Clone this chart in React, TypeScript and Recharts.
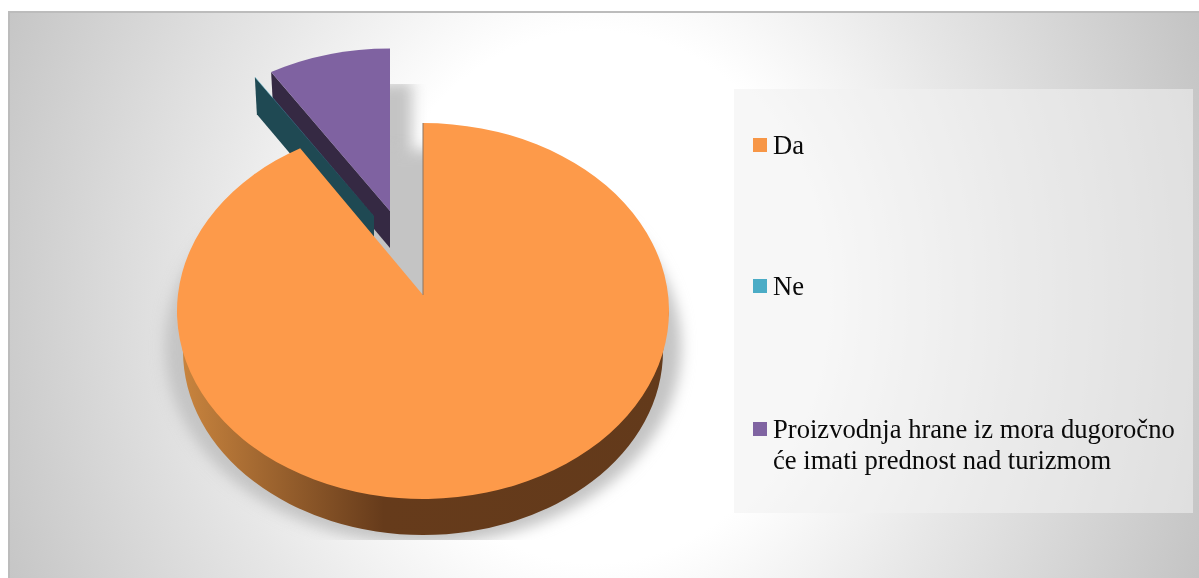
import React from 'react'
import { PieChart, Pie, Legend } from 'recharts'

const SLICE_NAMES = ['Proizvodnja hrane iz mora dugoročno će imati prednost nad turizmom', 'Ne', 'Da']
const SLICE_VALUES = [8.3, 0.02, 91.68]
const LEGEND_COLORS = ['#8064A2', '#4BACC6', '#F79646']
const FACE_COLORS = ['#7F62A1', '#4BACC6', '#FD9A4A']
const WALL_COLORS = ['#352943', '#1F4953', 'url(#daWall)']
// explosion of each slice, in pixels, plus the small perspective shrink
const SLICE_DX = [-33, -49, 0]
const SLICE_DY = [-84, -79, 0]
const SLICE_SCALE_X = [0.97, 0.97, 1]
const SLICE_SCALE_Y = [0.945, 0.945, 1]
const LEGEND_ROW_TOPS = [39, 180, 323]

const pieData = SLICE_NAMES.map((name, i) => ({ name, value: SLICE_VALUES[i], fill: FACE_COLORS[i] }))

const SQUASH = 0.764
const CENTER_DROP = 16
const DEPTH = 37

const pt = (p: any, idx: number, deg: number, extraX = 0, extraY = 0) => {
  const a = (deg * Math.PI) / 180
  return {
    x: p.cx + SLICE_DX[idx] + extraX + SLICE_SCALE_X[idx] * p.outerRadius * Math.cos(a),
    y: p.cy + SLICE_DY[idx] + extraY + SLICE_SCALE_Y[idx] * (CENTER_DROP - p.outerRadius * SQUASH * Math.sin(a)),
  }
}

const facePath = (p: any, idx: number, dx = 0, dy = 0) => {
  const rx = SLICE_SCALE_X[idx] * p.outerRadius
  const ry = SLICE_SCALE_Y[idx] * p.outerRadius * SQUASH
  const a = pt(p, idx, p.startAngle, dx, dy)
  const b = pt(p, idx, p.endAngle, dx, dy)
  const large = p.endAngle - p.startAngle > 180 ? 1 : 0
  const ax = p.cx + SLICE_DX[idx] + dx
  const ay = p.cy + SLICE_DY[idx] + dy
  return `M${ax},${ay} L${a.x},${a.y} A${rx},${ry} 0 ${large} 0 ${b.x},${b.y} Z`
}

const sliceIndex = (p: any) => SLICE_NAMES.indexOf(p.name)

function ShadowShape(p: any) {
  const idx = sliceIndex(p)
  if (p.name === 'Da') {
    // the big slice throws a whole disc of shadow, which is what greys the notch
    const rx = p.outerRadius * 1.05
    const ry = rx * SQUASH
    const cy = p.cy + CENTER_DROP + 36
    return (
      <g clipPath="url(#shadowClip)" style={{ mixBlendMode: 'darken' }}>
        <ellipse cx={p.cx} cy={cy} rx={rx} ry={ry} fill="#C4C4C4" filter="url(#soft)" />
      </g>
    )
  }
  return (
    <g clipPath="url(#shadowClip)" style={{ mixBlendMode: 'darken' }}>
      <path d={facePath(p, idx, 22, 34)} fill="#C4C4C4" filter="url(#soft)" />
    </g>
  )
}

function SliceShape(p: any) {
  const idx = sliceIndex(p)
  const isDa = p.name === 'Da'
  let wall = ''
  if (isDa) {
    const rx = p.outerRadius
    const ry = rx * SQUASH
    const yc = p.cy + CENTER_DROP
    wall = `M${p.cx - rx},${yc} L${p.cx - rx + 6},${yc + 40} A${rx - 6},${ry - 4} 0 0 0 ${p.cx + rx - 6},${yc + 40} L${p.cx + rx},${yc} Z`
  } else {
    const outer = pt(p, idx, p.endAngle)
    const ax = p.cx + SLICE_DX[idx]
    const ay = p.cy + SLICE_DY[idx]
    wall = `M${outer.x},${outer.y} L${ax},${ay} L${ax},${ay + DEPTH} L${outer.x + 2},${outer.y + DEPTH} Z`
  }
  return (
    <g>
      <path d={wall} fill={WALL_COLORS[idx]} />
      <path d={facePath(p, idx)} fill={FACE_COLORS[idx]} />
      {isDa ? <line x1={p.cx} y1={p.cy} x2={p.cx} y2={p.cy - 172} stroke="#8C7460" strokeWidth={1} /> : null}
    </g>
  )
}

function LegendBox({ payload }: any) {
  const names = [...SLICE_NAMES].reverse()
  const seen = (payload ?? []).map((item: any) => item.value)
  const items = names.filter((name) => seen.includes(name))
  return (
    <div style={{ position: 'relative', width: 459, height: 424, fontFamily: '"Liberation Serif", serif', fontSize: 26.6, lineHeight: '31px', color: '#0a0a0a' }}>
      {items.map((name: string, i: number) => (
        <div key={name} style={{ position: 'absolute', left: 19, top: LEGEND_ROW_TOPS[i], width: 430, display: 'flex', textAlign: 'left' }}>
          <span style={{ flex: 'none', width: 14, height: 14, marginTop: 10, marginRight: 6, background: LEGEND_COLORS[SLICE_NAMES.indexOf(name)] }} />
          <span style={{ paddingTop: 2 }}>{name}</span>
        </div>
      ))}
    </div>
  )
}

export default function App() {
  return (
    <div style={{ position: 'absolute', left: 0, top: 0, width: 1199, height: 578, background: '#fff', overflow: 'hidden' }}>
      <div
        style={{
          position: 'absolute',
          left: 8,
          top: 11,
          width: 1191,
          height: 567,
          borderTop: '2px solid #bcbcbc',
          borderLeft: '2px solid #bcbcbc',
          boxSizing: 'border-box',
          background: 'radial-gradient(ellipse 600px 700px at 585px 284px, #ffffff 0%, #ffffff 38%, #e7e7e7 65%, #c4c4c4 108%)',
        }}
      />
      <div style={{ position: 'absolute', left: 0, top: 0 }}>
        <PieChart width={1199} height={578} margin={{ top: 0, right: 0, bottom: 0, left: 0 }}>
          <defs>
            <linearGradient id="daWall" x1="0" y1="0" x2="1" y2="0">
              <stop offset="0%" stopColor="#CB863F" />
              <stop offset="42%" stopColor="#663B1B" />
              <stop offset="100%" stopColor="#633A1B" />
            </linearGradient>
            <filter id="soft" x="-20%" y="-20%" width="140%" height="140%">
              <feGaussianBlur stdDeviation="7" />
            </filter>
            <clipPath id="shadowClip">
              <rect x={8} y={84} width={1191} height={456} />
            </clipPath>
          </defs>
          <Pie
            data={pieData}
            dataKey="value"
            nameKey="name"
            cx={423}
            cy={295}
            outerRadius={246}
            startAngle={90}
            endAngle={450}
            stroke="none"
            legendType="none"
            isAnimationActive={false}
            shape={ShadowShape}
            inactiveShape={ShadowShape}
          />
          <Pie
            data={pieData}
            dataKey="value"
            nameKey="name"
            cx={423}
            cy={295}
            outerRadius={246}
            startAngle={90}
            endAngle={450}
            stroke="none"
            isAnimationActive={false}
            shape={SliceShape}
            inactiveShape={SliceShape}
          />
          <Legend
            content={<LegendBox />}
            layout="vertical"
            align="right"
            verticalAlign="top"
            wrapperStyle={{ left: 734, top: 89, width: 459, height: 424, background: 'rgba(241,241,241,0.57)' }}
          />
        </PieChart>
      </div>
    </div>
  )
}
